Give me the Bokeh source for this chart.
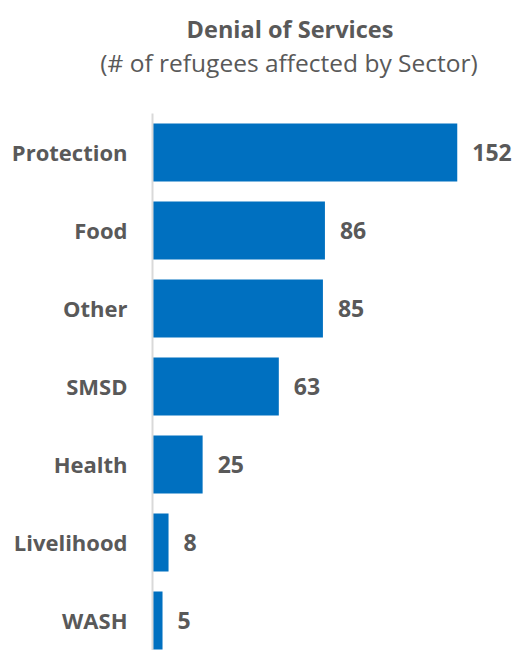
from bokeh.plotting import figure
from bokeh.models import Range1d, Label, LabelSet, ColumnDataSource, FixedTicker
from bokeh.core.properties import value
from bokeh.embed import file_html
from bokeh.resources import INLINE

sectors = ["Protection", "Food", "Other", "SMSD", "Health", "Livelihood", "WASH"]
counts = [152, 86, 85, 63, 25, 8, 5]
title_text = "Denial of Services"
subtitle_text = "(# of refugees affected by Sector)"

FONT = "Open Sans"
GREY = "#595959"
BLUE = "#0070C0"
W, H = 517, 650
AXIS_PX = 152          # page x of the value-axis origin
PX_PER_VAL = 2.005     # horizontal pixels per refugee
PX_PER_CAT = 78.0      # vertical pixels per category slot

n = len(sectors)
ypos = [n - 1 - i for i in range(n)]
y_low, y_top_bars = -0.385, n - 0.5
y_high = y_low + H / PX_PER_CAT
x_low = -AXIS_PX / PX_PER_VAL
x_high = (W - AXIS_PX) / PX_PER_VAL

src = ColumnDataSource(dict(y=ypos, v=counts, lab=[str(c) for c in counts], name=sectors))

p = figure(width=W, height=H, output_backend="svg", toolbar_location=None,
           x_range=Range1d(x_low, x_high), y_range=Range1d(y_low, y_high),
           x_axis_location=None, min_border_left=0, min_border_right=0,
           min_border_top=0, min_border_bottom=0)
p.outline_line_color = None
p.grid.visible = False
p.background_fill_color = "white"
p.border_fill_color = "white"

p.hbar(y="y", right="v", left=0, height=0.744, source=src, color=BLUE, line_color=None)

labels = LabelSet(x="v", y="y", text="lab", source=src, x_offset=15,
                  text_baseline="middle", text_align="left",
                  text_font=value(FONT), text_font_style="bold",
                  text_font_size="23px", text_color=GREY)
p.add_layout(labels)

ax = p.yaxis[0]
ax.fixed_location = 0
ax.ticker = FixedTicker(ticks=ypos)
ax.bounds = (y_low, y_top_bars)
ax.major_label_overrides = {y: s for y, s in zip(ypos, sectors)}
ax.major_tick_line_color = None
ax.minor_tick_line_color = None
ax.axis_line_color = "#d9d9d9"
ax.axis_line_width = 2
ax.major_label_standoff = 19
ax.major_label_text_font = FONT
ax.major_label_text_font_style = "bold"
ax.major_label_text_font_size = "22px"
ax.major_label_text_color = GREY

p.add_layout(Label(x=0, y=y_top_bars, x_offset=137.5, y_offset=84, text=title_text,
                   text_align="center", text_baseline="alphabetic",
                   text_font=FONT, text_font_style="bold",
                   text_font_size="23.5px", text_color=GREY))
p.add_layout(Label(x=0, y=y_top_bars, x_offset=136.5, y_offset=51, text=subtitle_text,
                   text_align="center", text_baseline="alphabetic",
                   text_font=FONT, text_font_style="normal",
                   text_font_size="24.5px", text_color=GREY))

open("out.html", "w").write(file_html(p, INLINE))
